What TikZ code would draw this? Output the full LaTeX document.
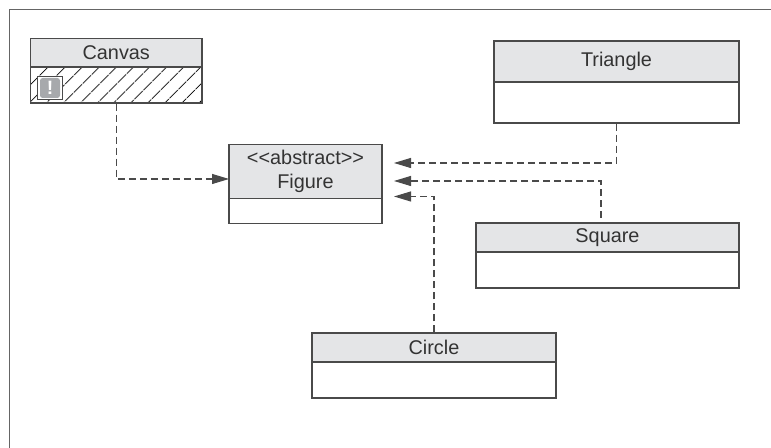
\documentclass[tikz,border=0pt]{standalone}
\usepackage{fontspec}
\setmainfont{Liberation Sans}
\usetikzlibrary{arrows.meta,patterns.meta}
\definecolor{headgray}{HTML}{E4E5E7}
\definecolor{linegray}{HTML}{4A4A4A}
\definecolor{textgray}{HTML}{333333}
\definecolor{icongray}{HTML}{A7A9AC}
\tikzset{
  classhead/.style={draw=linegray, fill=headgray, line width=.7pt, text=textgray, inner sep=0pt, align=center, font=\fontsize{11.3}{13.6}\selectfont},
  classbody/.style={draw=linegray, fill=white, line width=.7pt, inner sep=0pt},
  depend/.style={draw=linegray, line width=.6pt, dash pattern=on .14cm off .08cm},
  dependtip/.style={depend, -{Triangle[length=.34cm,width=.2cm,fill=linegray]}},
}

\begin{document}
\begin{tikzpicture}
\useasboundingbox (0,0) rectangle (15.42,8.96);
\draw[draw=linegray!85, line width=.8pt] (.19,0) -- (.19,8.77) -- (15.42,8.77);

\node[classbody, minimum width=3.43cm, minimum height=.72cm, pattern={Lines[angle=45,distance=.26cm,line width=.6pt]}] (canvasbody) at (2.325,7.26) {};
\node[classhead, minimum width=3.43cm, minimum height=.57cm] (canvas) at (2.325,7.905) {Canvas};
\node[draw=linegray, fill=white, line width=.6pt, minimum width=.5cm, minimum height=.47cm, inner sep=0pt] (iconbox) at (1,7.2) {};
\node[fill=icongray, rounded corners=1.5pt, minimum size=.4cm, inner sep=0pt, text=white, font=\fontsize{11}{11}\selectfont\bfseries] (warn) at (iconbox.center) {!};

\node[classhead, minimum width=3.06cm, minimum height=1.09cm] (figure) at (6.11,5.53) {<{}<abstract>{}>\\Figure};
\node[classbody, minimum width=3.06cm, minimum height=.49cm] (figurebody) at (6.11,4.74) {};

\node[classhead, minimum width=4.9cm, minimum height=.82cm] (triangle) at (12.33,7.73) {Triangle};
\node[classbody, minimum width=4.9cm, minimum height=.82cm] (trianglebody) at (12.33,6.91) {};

\node[classhead, minimum width=5.26cm, minimum height=.58cm] (square) at (12.15,4.21) {Square};
\node[classbody, minimum width=5.26cm, minimum height=.72cm] (squarebody) at (12.15,3.56) {};

\node[classhead, minimum width=4.88cm, minimum height=.58cm] (circle) at (8.68,2.01) {Circle};
\node[classbody, minimum width=4.88cm, minimum height=.72cm] (circlebody) at (8.68,1.36) {};

\coordinate (figcanvas) at (4.58,5.38);
\coordinate (figtriangle) at (7.88,5.7);
\coordinate (figsquare) at (7.88,5.34);
\coordinate (figcircle) at (7.88,5.03);
\coordinate (squareout) at (12.02,4.6);

\draw[dependtip] (canvasbody.south) |- (figcanvas);
\draw[dependtip] (trianglebody.south) |- (figtriangle);
\draw[dependtip] (squareout) |- (figsquare);
\draw[dependtip] (circle.north) |- (figcircle);
\end{tikzpicture}
\end{document}
